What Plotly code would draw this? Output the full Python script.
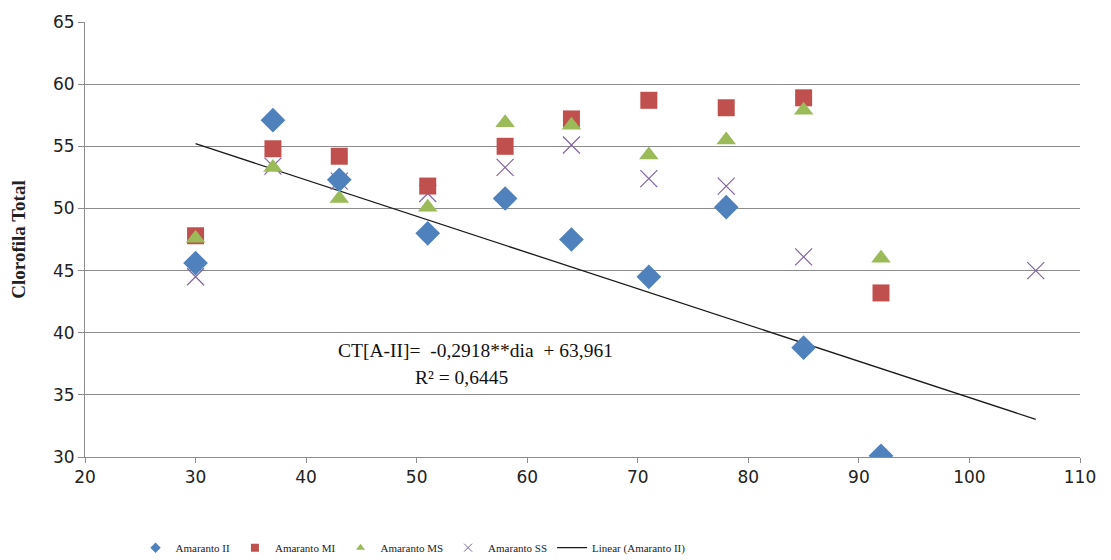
import plotly.graph_objects as go

# Days after sowing and total chlorophyll readings per amaranth treatment
dias = [30, 37, 43, 51, 58, 64, 71, 78, 85, 92]
amaranto_ii = [45.6, 57.1, 52.3, 48.0, 50.8, 47.5, 44.5, 50.1, 38.8, 30.1]
amaranto_mi = [47.8, 54.8, 54.2, 51.8, 55.0, 57.2, 58.7, 58.1, 58.9, 43.2]
amaranto_ms = [47.6, 53.3, 50.8, 50.1, 56.9, 56.7, 54.3, 55.5, 57.9, 46.0]
dias_ss = [30, 37, 43, 51, 58, 64, 71, 78, 85, 106]
amaranto_ss = [44.5, 53.4, 52.2, 51.2, 53.3, 55.1, 52.4, 51.8, 46.1, 45.0]

# Linear fit for Amaranto II
slope = -0.2918
intercept = 63.961
r2 = 0.6445
trend_x = [30, 106]
trend_y = [slope * d + intercept for d in trend_x]

x_ticks = [20, 30, 40, 50, 60, 70, 80, 90, 100, 110]
y_ticks = [30, 35, 40, 45, 50, 55, 60, 65]

BLUE = "#4F81BD"
RED = "#C0504D"
GREEN = "#9BBB59"
PURPLE = "#8064A2"
SERIF = "Liberation Serif"
SANS = "DejaVu Sans"
NB = "\u00a0"

fig = go.Figure()

fig.add_trace(go.Scatter(x=trend_x, y=trend_y, mode="lines",
                         line=dict(color="#1a1a1a", width=1.3),
                         showlegend=False, hoverinfo="skip"))
fig.add_trace(go.Scatter(x=dias_ss, y=amaranto_ss, mode="markers",
                         marker=dict(symbol="x-thin-open", size=17, color=PURPLE,
                                     line=dict(color=PURPLE, width=1.2)),
                         showlegend=False))
fig.add_trace(go.Scatter(x=dias, y=amaranto_ii, mode="markers",
                         marker=dict(symbol="diamond", size=19, color=BLUE),
                         showlegend=False))
fig.add_trace(go.Scatter(x=dias, y=amaranto_mi, mode="markers",
                         marker=dict(symbol="square", size=17, color=RED),
                         showlegend=False))
fig.add_trace(go.Scatter(x=dias, y=amaranto_ms, mode="markers",
                         marker=dict(symbol="triangle-up", size=17, color=GREEN),
                         showlegend=False))

# Compact legend entries with small symbols
legend_items = [
    ("Amaranto II", dict(symbol="diamond", size=8, color=BLUE)),
    ("Amaranto MI", dict(symbol="square", size=8, color=RED)),
    ("Amaranto MS", dict(symbol="triangle-up", size=8, color=GREEN)),
    ("Amaranto SS", dict(symbol="x-thin-open", size=8, color=PURPLE,
                         line=dict(color=PURPLE, width=1))),
]
for name, mk in legend_items:
    fig.add_trace(go.Scatter(x=[None], y=[None], mode="markers", name=name,
                             marker=mk, showlegend=True))
fig.add_trace(go.Scatter(x=[None], y=[None], mode="lines",
                         name="Linear (Amaranto II)",
                         line=dict(color="#1a1a1a", width=1.3)))

fig.add_annotation(x=55.3, y=38.6, xref="x", yref="y",
                   text=f"CT[A-II]={NB}{NB}-0,2918**dia{NB}{NB}+{NB}63,961",
                   showarrow=False, xanchor="center",
                   font=dict(family=SERIF, size=19.5, color="#111111"))
fig.add_annotation(x=54.1, y=36.4, xref="x", yref="y",
                   text=f"R² = {r2:.4f}".replace(".", ","),
                   showarrow=False, xanchor="center",
                   font=dict(family=SERIF, size=19.5, color="#111111"))

fig.update_layout(
    width=1111, height=560,
    margin=dict(l=85, r=31, t=22, b=103),
    paper_bgcolor="white", plot_bgcolor="white",
    legend=dict(orientation="h", xref="container", yref="container",
                x=0.122, xanchor="left", y=0.022, yanchor="middle",
                font=dict(family=SERIF, size=11, color="#222"),
                itemsizing="trace", traceorder="normal"),
    xaxis=dict(range=[20, 110], tickvals=x_ticks, showgrid=False,
               showline=True, linecolor="#8c8c8c", linewidth=1,
               ticks="outside", ticklen=5, tickcolor="#8c8c8c",
               tickfont=dict(family=SANS, size=17, color="#222"),
               zeroline=False),
    yaxis=dict(range=[30, 65], tickvals=y_ticks, showgrid=True,
               gridcolor="#8c8c8c", gridwidth=1,
               showline=True, linecolor="#8c8c8c", linewidth=1,
               ticks="outside", ticklen=6, tickcolor="#8c8c8c",
               tickfont=dict(family=SANS, size=17, color="#222"),
               title=dict(text="<b>Clorofila Total</b>", standoff=22,
                          font=dict(family=SERIF, size=19, color="#222")),
               zeroline=False),
)

fig.write_html("out.html")
